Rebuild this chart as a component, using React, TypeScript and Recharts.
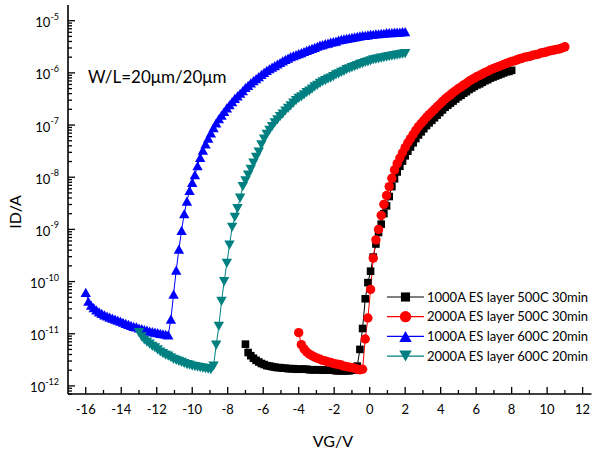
import { ComposedChart, Line, XAxis, YAxis, Legend } from 'recharts';

const FONT = 'Lato, "Open Sans", sans-serif';

// gate sweeps (VG, V) and drain current (ID, A)
const vg1000at500 = [
  -7, -6.85, -6.7, -6.55, -6.4, -6.25, -6.1, -5.95, -5.8, -5.65,
  -5.5, -5.35, -5.2, -5.05, -4.9, -4.75, -4.6, -4.45, -4.3, -4.15,
  -4, -3.85, -3.7, -3.55, -3.4, -3.25, -3.1, -2.95, -2.8, -2.65,
  -2.5, -2.35, -2.2, -2.05, -1.9, -1.75, -1.6, -1.45, -1.3, -1.15,
  -1, -0.85, -0.7, -0.55, -0.4, -0.25, -0.1, 0.05, 0.2, 0.35,
  0.5, 0.65, 0.8, 0.95, 1.1, 1.25, 1.4, 1.55, 1.7, 1.85,
  2, 2.15, 2.3, 2.45, 2.6, 2.75, 2.9, 3.05, 3.2, 3.35,
  3.5, 3.65, 3.8, 3.95, 4.1, 4.25, 4.4, 4.55, 4.7, 4.85,
  5, 5.15, 5.3, 5.45, 5.6, 5.75, 5.9, 6.05, 6.2, 6.35,
  6.5, 6.65, 6.8, 6.95, 7.1, 7.25, 7.4, 7.55, 7.7, 7.85,
  8,
];
const id1000at500 = [
  6.31e-12, 4.37e-12, 3.8e-12, 3.39e-12, 3.09e-12, 2.88e-12, 2.69e-12, 2.57e-12, 2.45e-12, 2.4e-12,
  2.34e-12, 2.29e-12, 2.24e-12, 2.24e-12, 2.19e-12, 2.19e-12, 2.14e-12, 2.14e-12, 2.14e-12, 2.09e-12,
  2.09e-12, 2.09e-12, 2.09e-12, 2.09e-12, 2.04e-12, 2.04e-12, 2.04e-12, 2.04e-12, 2.04e-12, 2.0e-12,
  2.0e-12, 2.0e-12, 2.0e-12, 2.0e-12, 1.95e-12, 1.95e-12, 1.95e-12, 1.95e-12, 1.95e-12, 1.95e-12,
  2.0e-12, 2.04e-12, 2.4e-12, 5.01e-12, 1.26e-11, 4.68e-11, 9.55e-11, 1.58e-10, 2.95e-10, 5.25e-10,
  8.71e-10, 1.26e-9, 2.0e-9, 2.82e-9, 4.27e-9, 6.61e-9, 9.33e-9, 1.26e-8, 1.62e-8, 2.04e-8,
  2.57e-8, 3.16e-8, 3.8e-8, 4.57e-8, 5.5e-8, 6.46e-8, 7.41e-8, 8.51e-8, 9.77e-8, 1.1e-7,
  1.23e-7, 1.38e-7, 1.55e-7, 1.74e-7, 1.95e-7, 2.19e-7, 2.4e-7, 2.63e-7, 2.88e-7, 3.16e-7,
  3.47e-7, 3.72e-7, 4.07e-7, 4.37e-7, 4.79e-7, 5.13e-7, 5.5e-7, 5.89e-7, 6.17e-7, 6.61e-7,
  7.08e-7, 7.41e-7, 7.94e-7, 8.32e-7, 8.71e-7, 9.12e-7, 9.55e-7, 1.0e-6, 1.05e-6, 1.07e-6,
  1.12e-6,
];

const vg2000at500 = [
  -4, -3.85, -3.7, -3.55, -3.4, -3.25, -3.1, -2.95, -2.8, -2.65,
  -2.5, -2.35, -2.2, -2.05, -1.9, -1.75, -1.6, -1.45, -1.3, -1.15,
  -1, -0.85, -0.7, -0.55, -0.4, -0.25, -0.1, 0.05, 0.2, 0.35,
  0.5, 0.65, 0.8, 0.95, 1.1, 1.25, 1.4, 1.55, 1.7, 1.85,
  2, 2.15, 2.3, 2.45, 2.6, 2.75, 2.9, 3.05, 3.2, 3.35,
  3.5, 3.65, 3.8, 3.95, 4.1, 4.25, 4.4, 4.55, 4.7, 4.85,
  5, 5.15, 5.3, 5.45, 5.6, 5.75, 5.9, 6.05, 6.2, 6.35,
  6.5, 6.65, 6.8, 6.95, 7.1, 7.25, 7.4, 7.55, 7.7, 7.85,
  8, 8.15, 8.3, 8.45, 8.6, 8.75, 8.9, 9.05, 9.2, 9.35,
  9.5, 9.65, 9.8, 9.95, 10.1, 10.25, 10.4, 10.55, 10.7, 10.85,
  11,
];
const id2000at500 = [
  1.05e-11, 6.17e-12, 5.13e-12, 4.47e-12, 4.07e-12, 3.8e-12, 3.55e-12, 3.39e-12, 3.24e-12, 3.09e-12,
  3.02e-12, 2.88e-12, 2.82e-12, 2.69e-12, 2.63e-12, 2.57e-12, 2.51e-12, 2.4e-12, 2.34e-12, 2.29e-12,
  2.24e-12, 2.19e-12, 2.09e-12, 2.04e-12, 2.09e-12, 7.94e-12, 2.0e-11, 7.08e-11, 2.82e-10, 6.31e-10,
  1.0e-9, 1.86e-9, 3.02e-9, 4.47e-9, 6.61e-9, 9.55e-9, 1.38e-8, 1.82e-8, 2.34e-8, 2.95e-8,
  3.72e-8, 4.57e-8, 5.5e-8, 6.61e-8, 7.94e-8, 9.33e-8, 1.07e-7, 1.23e-7, 1.41e-7, 1.58e-7,
  1.78e-7, 2.0e-7, 2.24e-7, 2.51e-7, 2.82e-7, 3.16e-7, 3.47e-7, 3.8e-7, 4.17e-7, 4.57e-7,
  5.01e-7, 5.37e-7, 5.89e-7, 6.31e-7, 6.92e-7, 7.41e-7, 7.94e-7, 8.51e-7, 8.91e-7, 9.55e-7,
  1.02e-6, 1.07e-6, 1.15e-6, 1.2e-6, 1.26e-6, 1.32e-6, 1.38e-6, 1.45e-6, 1.51e-6, 1.58e-6,
  1.66e-6, 1.7e-6, 1.78e-6, 1.86e-6, 1.91e-6, 2.0e-6, 2.04e-6, 2.09e-6, 2.19e-6, 2.24e-6,
  2.29e-6, 2.4e-6, 2.45e-6, 2.51e-6, 2.63e-6, 2.69e-6, 2.75e-6, 2.82e-6, 2.88e-6, 3.02e-6,
  3.16e-6,
];

const vg1000at600 = [
  -16, -15.85, -15.7, -15.55, -15.4, -15.25, -15.1, -14.95, -14.8, -14.65,
  -14.5, -14.35, -14.2, -14.05, -13.9, -13.75, -13.6, -13.45, -13.3, -13.15,
  -13, -12.85, -12.7, -12.55, -12.4, -12.25, -12.1, -11.95, -11.8, -11.65,
  -11.5, -11.35, -11.2, -11.05, -10.9, -10.75, -10.6, -10.45, -10.3, -10.15,
  -10, -9.85, -9.7, -9.55, -9.4, -9.25, -9.1, -8.95, -8.8, -8.65,
  -8.5, -8.35, -8.2, -8.05, -7.9, -7.75, -7.6, -7.45, -7.3, -7.15,
  -7, -6.85, -6.7, -6.55, -6.4, -6.25, -6.1, -5.95, -5.8, -5.65,
  -5.5, -5.35, -5.2, -5.05, -4.9, -4.75, -4.6, -4.45, -4.3, -4.15,
  -4, -3.85, -3.7, -3.55, -3.4, -3.25, -3.1, -2.95, -2.8, -2.65,
  -2.5, -2.35, -2.2, -2.05, -1.9, -1.75, -1.6, -1.45, -1.3, -1.15,
  -1, -0.85, -0.7, -0.55, -0.4, -0.25, -0.1, 0.05, 0.2, 0.35,
  0.5, 0.65, 0.8, 0.95, 1.1, 1.25, 1.4, 1.55, 1.7, 1.85,
  2,
];
const id1000at600 = [
  6.2e-11, 4.2e-11, 3.55e-11, 3.16e-11, 2.88e-11, 2.63e-11, 2.45e-11, 2.29e-11, 2.19e-11, 2.09e-11,
  2.0e-11, 1.91e-11, 1.82e-11, 1.74e-11, 1.66e-11, 1.58e-11, 1.51e-11, 1.45e-11, 1.38e-11, 1.35e-11,
  1.29e-11, 1.26e-11, 1.2e-11, 1.17e-11, 1.12e-11, 1.1e-11, 1.07e-11, 1.05e-11, 1.02e-11, 1.0e-11,
  9.77e-12, 9.55e-12, 1.91e-11, 5.75e-11, 1.66e-10, 4.17e-10, 9.55e-10, 2.0e-9, 3.47e-9, 5.62e-9,
  7.94e-9, 1.12e-8, 1.66e-8, 2.4e-8, 3.31e-8, 4.37e-8, 5.62e-8, 7.08e-8, 8.91e-8, 1.1e-7,
  1.32e-7, 1.55e-7, 1.82e-7, 2.14e-7, 2.45e-7, 2.82e-7, 3.24e-7, 3.63e-7, 4.07e-7, 4.57e-7,
  5.25e-7, 5.75e-7, 6.46e-7, 7.08e-7, 7.76e-7, 8.51e-7, 9.33e-7, 1.02e-6, 1.12e-6, 1.2e-6,
  1.29e-6, 1.38e-6, 1.48e-6, 1.58e-6, 1.7e-6, 1.82e-6, 1.91e-6, 2.04e-6, 2.14e-6, 2.24e-6,
  2.34e-6, 2.45e-6, 2.57e-6, 2.69e-6, 2.82e-6, 2.95e-6, 3.09e-6, 3.24e-6, 3.39e-6, 3.47e-6,
  3.63e-6, 3.72e-6, 3.89e-6, 3.98e-6, 4.07e-6, 4.27e-6, 4.37e-6, 4.47e-6, 4.57e-6, 4.68e-6,
  4.79e-6, 4.9e-6, 5.01e-6, 5.13e-6, 5.25e-6, 5.25e-6, 5.37e-6, 5.5e-6, 5.5e-6, 5.62e-6,
  5.62e-6, 5.75e-6, 5.75e-6, 5.89e-6, 5.89e-6, 5.89e-6, 6.03e-6, 6.03e-6, 6.03e-6, 6.17e-6,
  6.17e-6,
];

const vg2000at600 = [
  -13, -12.85, -12.7, -12.55, -12.4, -12.25, -12.1, -11.95, -11.8, -11.65,
  -11.5, -11.35, -11.2, -11.05, -10.9, -10.75, -10.6, -10.45, -10.3, -10.15,
  -10, -9.85, -9.7, -9.55, -9.4, -9.25, -9.1, -8.95, -8.8, -8.65,
  -8.5, -8.35, -8.2, -8.05, -7.9, -7.75, -7.6, -7.45, -7.3, -7.15,
  -7, -6.85, -6.7, -6.55, -6.4, -6.25, -6.1, -5.95, -5.8, -5.65,
  -5.5, -5.35, -5.2, -5.05, -4.9, -4.75, -4.6, -4.45, -4.3, -4.15,
  -4, -3.85, -3.7, -3.55, -3.4, -3.25, -3.1, -2.95, -2.8, -2.65,
  -2.5, -2.35, -2.2, -2.05, -1.9, -1.75, -1.6, -1.45, -1.3, -1.15,
  -1, -0.85, -0.7, -0.55, -0.4, -0.25, -0.1, 0.05, 0.2, 0.35,
  0.5, 0.65, 0.8, 0.95, 1.1, 1.25, 1.4, 1.55, 1.7, 1.85,
  2,
];
const id2000at600 = [
  1.05e-11, 8.71e-12, 7.59e-12, 6.92e-12, 6.31e-12, 5.75e-12, 5.37e-12, 4.9e-12, 4.47e-12, 4.17e-12,
  3.89e-12, 3.72e-12, 3.47e-12, 3.24e-12, 3.09e-12, 2.95e-12, 2.82e-12, 2.69e-12, 2.57e-12, 2.51e-12,
  2.4e-12, 2.34e-12, 2.29e-12, 2.24e-12, 2.19e-12, 2.14e-12, 2.09e-12, 2.04e-12, 2.4e-12, 6.03e-12,
  1.38e-11, 4.17e-11, 1.0e-10, 2.24e-10, 5.01e-10, 1.1e-9, 1.7e-9, 2.51e-9, 3.98e-9, 6.61e-9,
  8.51e-9, 1.1e-8, 1.41e-8, 1.86e-8, 2.4e-8, 3.02e-8, 4.17e-8, 5.37e-8, 6.61e-8, 7.94e-8,
  9.33e-8, 1.1e-7, 1.26e-7, 1.45e-7, 1.62e-7, 1.86e-7, 2.09e-7, 2.34e-7, 2.63e-7, 2.95e-7,
  3.24e-7, 3.47e-7, 3.8e-7, 4.17e-7, 4.47e-7, 4.9e-7, 5.37e-7, 5.75e-7, 6.31e-7, 6.76e-7,
  7.08e-7, 7.59e-7, 7.94e-7, 8.51e-7, 9.12e-7, 9.55e-7, 1.02e-6, 1.07e-6, 1.15e-6, 1.2e-6,
  1.26e-6, 1.32e-6, 1.38e-6, 1.45e-6, 1.51e-6, 1.58e-6, 1.62e-6, 1.7e-6, 1.78e-6, 1.82e-6,
  1.86e-6, 1.91e-6, 1.95e-6, 2.0e-6, 2.04e-6, 2.09e-6, 2.14e-6, 2.19e-6, 2.24e-6, 2.29e-6,
  2.34e-6,
];

const xMajor = [-16, -14, -12, -10, -8, -6, -4, -2, 0, 2, 4, 6, 8, 10, 12];
const xMinor = [-15, -13, -11, -9, -7, -5, -3, -1, 1, 3, 5, 7, 9, 11];
const xTicks = [...xMajor, ...xMinor].sort((a, b) => a - b);

const yMajor = [1e-12, 1e-11, 1e-10, 1e-9, 1e-8, 1e-7, 1e-6, 1e-5];
const yMinorSteps = [2, 3, 4, 5, 6, 7, 8, 9];
const yTicks = [
  7e-13, 8e-13, 9e-13,
  ...yMajor.slice(0, -1).flatMap((d) => [d, ...yMinorSteps.map((s) => s * d)]),
  1e-5,
];

const series = [
  { name: '1000A ES layer 500C 30min', color: '#000000', shape: 'square', vg: vg1000at500, id: id1000at500 },
  { name: '2000A ES layer 500C 30min', color: '#ff0000', shape: 'circle', vg: vg2000at500, id: id2000at500 },
  { name: '1000A ES layer 600C 20min', color: '#0000ff', shape: 'up', vg: vg1000at600, id: id1000at600 },
  { name: '2000A ES layer 600C 20min', color: '#008080', shape: 'down', vg: vg2000at600, id: id2000at600 },
];

function Marker({ shape, cx, cy, color, k = 1 }: any) {
  if (shape === 'square') {
    const h = 3.8 * k;
    return <rect x={cx - h} y={cy - h} width={2 * h} height={2 * h} fill={color} />;
  }
  if (shape === 'circle') return <circle cx={cx} cy={cy} r={4.7 * k} fill={color} />;
  const w = 5.2 * k;
  const t = 4.6 * k;
  if (shape === 'up') {
    return <polygon points={`${cx},${cy - t} ${cx - w},${cy + t} ${cx + w},${cy + t}`} fill={color} />;
  }
  return <polygon points={`${cx},${cy + t} ${cx - w},${cy - t} ${cx + w},${cy - t}`} fill={color} />;
}

const tickStroke = { stroke: '#000', strokeWidth: 1.3 };

const BottomTick = (p: any) => {
  const v = p.payload.value;
  const major = xMajor.includes(v);
  return (
    <g>
      <line x1={p.x} x2={p.x} y1={p.y} y2={p.y - (major ? 7 : 4)} {...tickStroke} />
      {major && (
        <text x={p.x} y={p.y + 20} textAnchor="middle" fontSize={13} fontFamily={FONT} fill="#000">
          {v}
        </text>
      )}
    </g>
  );
};

const TopTick = (p: any) => {
  const major = xMajor.includes(p.payload.value);
  return <line x1={p.x} x2={p.x} y1={p.y} y2={p.y + (major ? 7 : 4)} {...tickStroke} />;
};

const LeftTick = (p: any) => {
  const v = p.payload.value;
  const major = yMajor.includes(v);
  return (
    <g>
      <line x1={p.x} x2={p.x + (major ? 7 : 4)} y1={p.y} y2={p.y} {...tickStroke} />
      {major && (
        <text x={p.x - 9} y={p.y + 6.5} textAnchor="end" fontSize={13} fontFamily={FONT} fill="#000">
          10
          <tspan dy={-7.5} fontSize={9}>
            {Math.round(Math.log10(v))}
          </tspan>
        </text>
      )}
    </g>
  );
};

const RightTick = (p: any) => {
  const major = yMajor.includes(p.payload.value);
  return <line x1={p.x} x2={p.x - (major ? 7 : 4)} y1={p.y} y2={p.y} {...tickStroke} />;
};

function LegendBox() {
  return (
    <svg width={212} height={80} style={{ display: 'block' }}>
      {series.map((s, i) => {
        const cy = 10 + i * 19.7;
        return (
          <g key={s.name}>
            <line x1={4} x2={41} y1={cy} y2={cy} stroke={s.color} strokeWidth={1.2} />
            <Marker shape={s.shape} cx={22.5} cy={cy} color={s.color} k={1.2} />
            <text x={44} y={cy + 4.5} fontSize={13} fontFamily={FONT} fill="#000">
              {s.name}
            </text>
          </g>
        );
      })}
    </svg>
  );
}

export default function App() {
  const axisLine = { stroke: '#000', strokeWidth: 1.6 };
  return (
    <div style={{ position: 'absolute', left: 0, top: 0, width: 596, height: 453, background: '#fff' }}>
      <ComposedChart width={596} height={453} margin={{ top: 5, right: 4.5, bottom: 0, left: 0 }}>
        <XAxis
          xAxisId="b"
          type="number"
          dataKey="vg"
          domain={[-17, 12.5]}
          allowDataOverflow
          ticks={xTicks}
          interval={0}
          height={59}
          tickSize={0}
          tickMargin={0}
          tickLine={false}
          axisLine={axisLine}
          tick={BottomTick}
          label={() => (
            <text x={333} y={447} textAnchor="middle" fontSize={16} fontFamily={FONT} fill="#000">
              VG/V
            </text>
          )}
        />
        <XAxis
          xAxisId="t"
          orientation="top"
          type="number"
          domain={[-17, 12.5]}
          allowDataOverflow
          ticks={xTicks}
          interval={0}
          height={0}
          tickSize={0}
          tickMargin={0}
          tickLine={false}
          axisLine={axisLine}
          tick={TopTick}
        />
        <YAxis
          yAxisId="l"
          type="number"
          scale="log"
          domain={[7e-13, 2e-5]}
          allowDataOverflow
          ticks={yTicks}
          interval={0}
          width={68}
          tickSize={0}
          tickMargin={0}
          tickLine={false}
          axisLine={axisLine}
          tick={LeftTick}
          label={() => (
            <g>
              <text
                transform="translate(21,212) rotate(-90)"
                textAnchor="middle"
                fontSize={16}
                fontFamily={FONT}
                fill="#000"
              >
                ID/A
              </text>
              <text x={88} y={83} fontSize={17} fontFamily={FONT} fill="#000">
                W/L=20μm/20μm
              </text>
            </g>
          )}
        />
        <YAxis
          yAxisId="r"
          orientation="right"
          type="number"
          scale="log"
          domain={[7e-13, 2e-5]}
          allowDataOverflow
          ticks={yTicks}
          interval={0}
          width={0}
          tickSize={0}
          tickMargin={0}
          tickLine={false}
          axisLine={axisLine}
          tick={RightTick}
        />
        {series.map((s) => (
          <Line
            key={s.name}
            xAxisId="b"
            yAxisId="l"
            name={s.name}
            data={s.vg.map((v, i) => ({ vg: v, id: s.id[i] }))}
            dataKey="id"
            type="linear"
            stroke={s.color}
            strokeWidth={1}
            activeDot={false}
            isAnimationActive={false}
            dot={(p: any) => <Marker key={p.index} shape={s.shape} cx={p.cx} cy={p.cy} color={s.color} />}
          />
        ))}
        <Legend
          layout="horizontal"
          verticalAlign="middle"
          align="center"
          content={<LegendBox />}
          wrapperStyle={{ left: 383, top: 287, width: 212, height: 80 }}
        />
      </ComposedChart>
    </div>
  );
}
